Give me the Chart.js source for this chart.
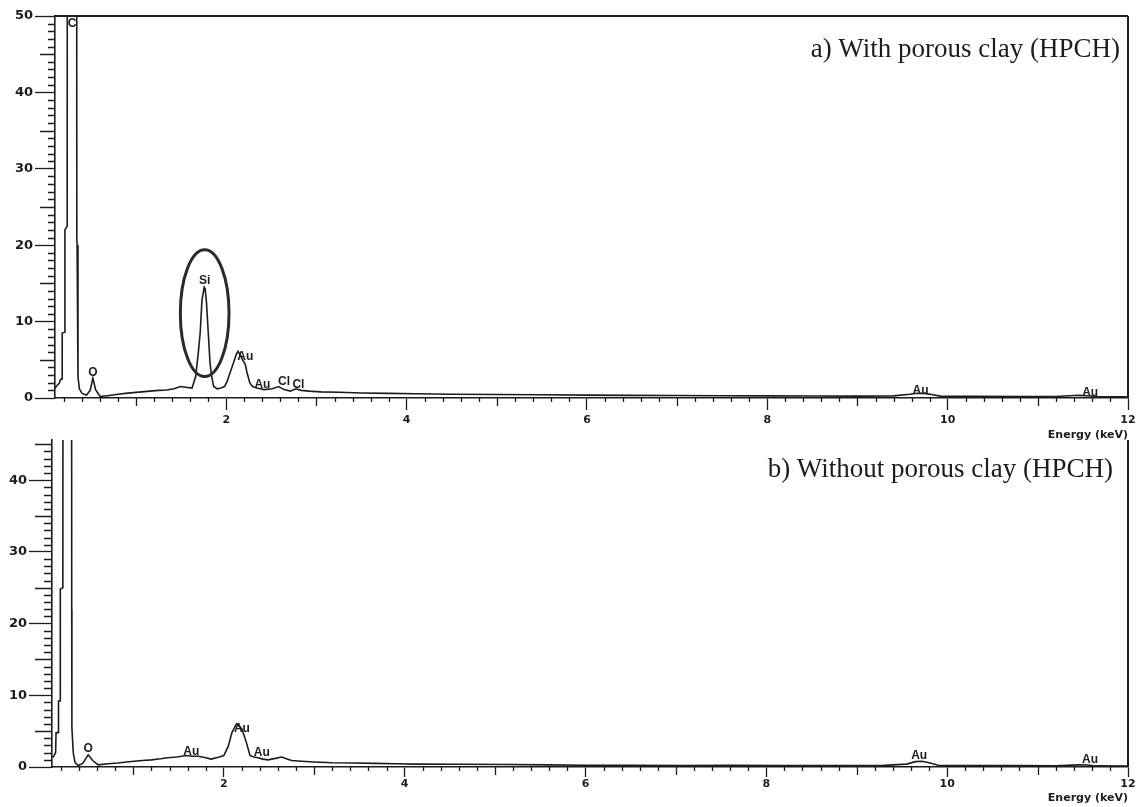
<!DOCTYPE html>
<html>
<head>
<meta charset="utf-8">
<script src="https://cdn.jsdelivr.net/npm/chart.js@4"></script>
<style>
  body { margin: 0; background: #fff; width: 1136px; height: 807px; overflow: hidden; position: relative; }
  canvas { position: absolute; left: 0; }
  #chartA { top: 0; }
  #chartB { top: 430px; }
</style>
</head>
<body>
<canvas id="chartA" width="1136" height="445"></canvas>
<canvas id="chartB" width="1136" height="377"></canvas>
<script>

// spectrum a) with porous clay
const energyA = [0.10, 0.15, 0.16, 0.178, 0.18, 0.205, 0.21, 0.235, 0.29, 0.342,
  0.345, 0.355, 0.37, 0.40, 0.45, 0.49, 0.52, 0.55, 0.60, 0.68,
  0.78, 0.88, 0.97, 1.06, 1.15, 1.25, 1.34, 1.42, 1.49, 1.55,
  1.62, 1.66, 1.69, 1.71, 1.73, 1.755, 1.765, 1.78, 1.80, 1.82,
  1.835, 1.86, 1.90, 1.94, 1.98, 2.01, 2.05, 2.08, 2.11, 2.13,
  2.16, 2.18, 2.21, 2.23, 2.26, 2.29, 2.34, 2.42, 2.51, 2.58,
  2.64, 2.71, 2.77, 2.83, 2.92, 3.05, 3.25, 3.5, 3.8, 4.1,
  4.5, 5.0, 5.5, 6.0, 6.5, 7.0, 7.5, 8.0, 8.5, 9.0,
  9.4, 9.58, 9.66, 9.74, 9.82, 9.92, 10.3, 10.8, 11.2, 11.45,
  11.55, 11.65, 12.0];
const countsA = [1.3, 2.0, 2.4, 2.5, 8.5, 8.6, 22, 22.5, 1500, 21,
  20, 2.8, 1.2, 0.6, 0.4, 1.0, 2.6, 1.1, 0.2, 0.3,
  0.45, 0.6, 0.7, 0.8, 0.9, 1.0, 1.05, 1.2, 1.5, 1.4,
  1.3, 2.8, 6.0, 8.5, 12.8, 14.5, 14.3, 12.5, 8.5, 4.5,
  3.0, 1.5, 1.2, 1.3, 1.5, 2.2, 3.6, 4.6, 5.7, 6.1,
  5.5, 5.0, 4.4, 3.3, 2.0, 1.5, 1.3, 1.1, 1.2, 1.5,
  1.1, 0.9, 1.2, 1.0, 0.9, 0.8, 0.75, 0.65, 0.6, 0.55,
  0.5, 0.45, 0.42, 0.38, 0.35, 0.32, 0.3, 0.28, 0.27, 0.25,
  0.28, 0.5, 0.62, 0.6, 0.45, 0.25, 0.22, 0.2, 0.2, 0.35,
  0.3, 0.2, 0.15];

// spectrum b) without porous clay
const energyB = [0.11, 0.14, 0.145, 0.17, 0.172, 0.19, 0.192, 0.22, 0.27, 0.318,
  0.32, 0.335, 0.355, 0.39, 0.44, 0.50, 0.55, 0.61, 0.72, 0.83,
  0.92, 1.01, 1.1, 1.2, 1.3, 1.38, 1.48, 1.59, 1.65, 1.72,
  1.8, 1.86, 1.95, 2.0, 2.05, 2.09, 2.14, 2.17, 2.20, 2.25,
  2.29, 2.33, 2.38, 2.43, 2.49, 2.57, 2.64, 2.70, 2.75, 2.86,
  3.0, 3.2, 3.45, 3.67, 3.9, 4.1, 4.6, 5.16, 5.6, 5.97,
  6.5, 7.08, 7.6, 8.2, 8.8, 9.3, 9.55, 9.65, 9.72, 9.8,
  9.9, 10.3, 10.8, 11.2, 11.45, 11.55, 11.65, 12.0];
const countsB = [1.3, 2.0, 4.8, 4.8, 9.2, 9.2, 24.8, 25, 1500, 22,
  5.5, 2.0, 0.6, 0.2, 0.5, 1.7, 0.9, 0.3, 0.45, 0.55,
  0.7, 0.8, 0.9, 1.0, 1.15, 1.3, 1.4, 1.6, 1.5, 1.5,
  1.3, 1.1, 1.4, 1.6, 2.9, 4.8, 6.0, 5.7, 5.3, 3.4,
  1.6, 1.4, 1.3, 1.1, 1.0, 1.2, 1.4, 1.1, 0.9, 0.8,
  0.7, 0.6, 0.55, 0.5, 0.45, 0.4, 0.38, 0.35, 0.3, 0.25,
  0.25, 0.2, 0.22, 0.2, 0.2, 0.22, 0.4, 0.75, 0.8, 0.6,
  0.25, 0.2, 0.2, 0.18, 0.3, 0.28, 0.15, 0.12];

// element labels at peaks
const peakNamesA = ['C', 'O', 'Si', 'Au', 'Au', 'Cl', 'Cl', 'Au', 'Au'];
const peakEnergyA = [0.29, 0.52, 1.76, 2.21, 2.40, 2.64, 2.80, 9.70, 11.58];
const peakCountsA = [49, 3.3, 15.3, 5.4, 1.7, 2.2, 1.7, 0.9, 0.65];

const peakNamesB = ['O', 'Au', 'Au', 'Au', 'Au', 'Au'];
const peakEnergyB = [0.50, 1.64, 2.20, 2.42, 9.69, 11.58];
const peakCountsB = [2.6, 2.2, 5.3, 1.95, 1.6, 1.0];

const ink = '#1c1c1c';

// minor ticks, frame, peak names, ellipse, panel caption
const extras = {
  id: 'extras',
  afterDraw(chart, args, o) {
    const {ctx, chartArea: area} = chart;
    const x = chart.scales.x, y = chart.scales.y;
    ctx.save();
    ctx.strokeStyle = ink;
    ctx.lineWidth = 1.3;
    ctx.beginPath();
    for (let v = 1; v < y.max; v++) {
      if (v % 10 === 0) continue;
      const len = v % 5 === 0 ? o.yMid : o.yMinor;
      const py = Math.round(y.getPixelForValue(v)) + 0.5;
      ctx.moveTo(area.left - len, py);
      ctx.lineTo(area.left, py);
    }
    for (let i = 1; i < 60; i++) {
      const v = i / 5;
      if (v < x.min || i % 10 === 0) continue;
      const len = i % 5 === 0 ? 8 : 4;
      const px = Math.round(x.getPixelForValue(v)) + 0.5;
      ctx.moveTo(px, area.bottom);
      ctx.lineTo(px, area.bottom + len);
    }
    ctx.stroke();

    // frame
    ctx.lineWidth = 2;
    ctx.beginPath();
    if (o.frameTop) {
      ctx.moveTo(area.left, area.top);
      ctx.lineTo(area.right, area.top);
    }
    ctx.moveTo(area.right, area.top);
    ctx.lineTo(area.right, area.bottom);
    ctx.stroke();

    // element names
    ctx.fillStyle = ink;
    ctx.font = 'bold 12px "Liberation Sans"';
    ctx.textAlign = 'center';
    ctx.textBaseline = 'middle';
    o.names.forEach((n, i) => {
      ctx.fillText(n, x.getPixelForValue(o.energy[i]), y.getPixelForValue(o.counts[i]));
    });

    // circled Si peak
    if (o.ring) {
      const cx = x.getPixelForValue(o.ring.energy);
      const cy = y.getPixelForValue(o.ring.counts);
      const rx = x.getPixelForValue(o.ring.energy + o.ring.de) - cx;
      const ry = cy - y.getPixelForValue(o.ring.counts + o.ring.dc);
      ctx.lineWidth = 3;
      ctx.strokeStyle = '#2a2a2a';
      ctx.beginPath();
      ctx.ellipse(cx, cy, rx, ry, 0, 0, Math.PI * 2);
      ctx.stroke();
    }

    ctx.font = '27px "Liberation Serif"';
    ctx.textAlign = 'right';
    ctx.fillText(o.caption, area.right - o.capInset, area.top + o.capDrop);
    ctx.restore();
  }
};

const makeChart = (id, energy, counts, cfg) => {
  const ctx = document.getElementById(id).getContext('2d');
  return new Chart(ctx, {
    type: 'scatter',
    data: {
      datasets: [{
        data: energy.map((e, i) => ({x: e, y: counts[i]})),
        showLine: true,
        pointRadius: 0,
        borderColor: ink,
        borderWidth: 1.6,
        tension: 0
      }]
    },
    options: {
      responsive: false,
      animation: false,
      devicePixelRatio: 1,
      layout: {padding: {top: cfg.padTop, right: 8, left: 0, bottom: 0}},
      plugins: {
        legend: {display: false},
        tooltip: {enabled: false},
        extras: cfg
      },
      scales: {
        x: {
          type: 'linear',
          min: 0.1,
          max: 12,
          afterFit: (s) => { s.height = cfg.xHeight; s.paddingRight = 0; },
          ticks: {
            stepSize: 2,
            includeBounds: false,
            autoSkip: false,
            maxRotation: 0,
            padding: cfg.xLabelPad,
            color: ink,
            font: {family: 'DejaVu Sans', weight: 'bold', size: 11},
            callback: (v) => v
          },
          grid: {drawOnChartArea: false, tickLength: cfg.xTick, color: ink, tickWidth: 1.3},
          border: {color: ink, width: 1.6},
          title: {
            display: true,
            text: 'Energy (keV)',
            align: 'end',
            color: ink,
            font: {family: 'DejaVu Sans', weight: 'bold', size: 11},
            padding: {top: 0, bottom: cfg.titlePad}
          }
        },
        y: {
          min: 0,
          max: cfg.yMax,
          afterFit: (s) => { s.width = cfg.yWidth; },
          ticks: {
            stepSize: 10,
            includeBounds: false,
            padding: 2,
            color: ink,
            font: {family: 'DejaVu Sans', weight: 'bold', size: 13}
          },
          grid: {drawOnChartArea: false, tickLength: cfg.yTick, color: ink, tickWidth: 1.3},
          border: {color: ink, width: 1.6}
        }
      }
    },
    plugins: [extras]
  });
};

makeChart('chartA', energyA, countsA, {
  padTop: 16, xHeight: 47, xLabelPad: 4, xTick: 12, titlePad: 3,
  yMax: 50, yWidth: 55, yTick: 20, yMid: 15, yMinor: 7,
  names: peakNamesA, energy: peakEnergyA, counts: peakCountsA,
  frameTop: true,
  ring: {energy: 1.76, counts: 11.1, de: 0.27, dc: 8.3},
  caption: 'a) With porous clay (HPCH)', capInset: 8, capDrop: 34
});

makeChart('chartB', energyB, countsB, {
  padTop: 10, xHeight: 40, xLabelPad: 1, xTick: 10, titlePad: 2,
  yMax: 45.6, yWidth: 52, yTick: 23, yMid: 17, yMinor: 8,
  names: peakNamesB, energy: peakEnergyB, counts: peakCountsB,
  frameTop: false,
  ring: null,
  caption: 'b) Without porous clay (HPCH)', capInset: 15, capDrop: 30
});
</script>
</body>
</html>
